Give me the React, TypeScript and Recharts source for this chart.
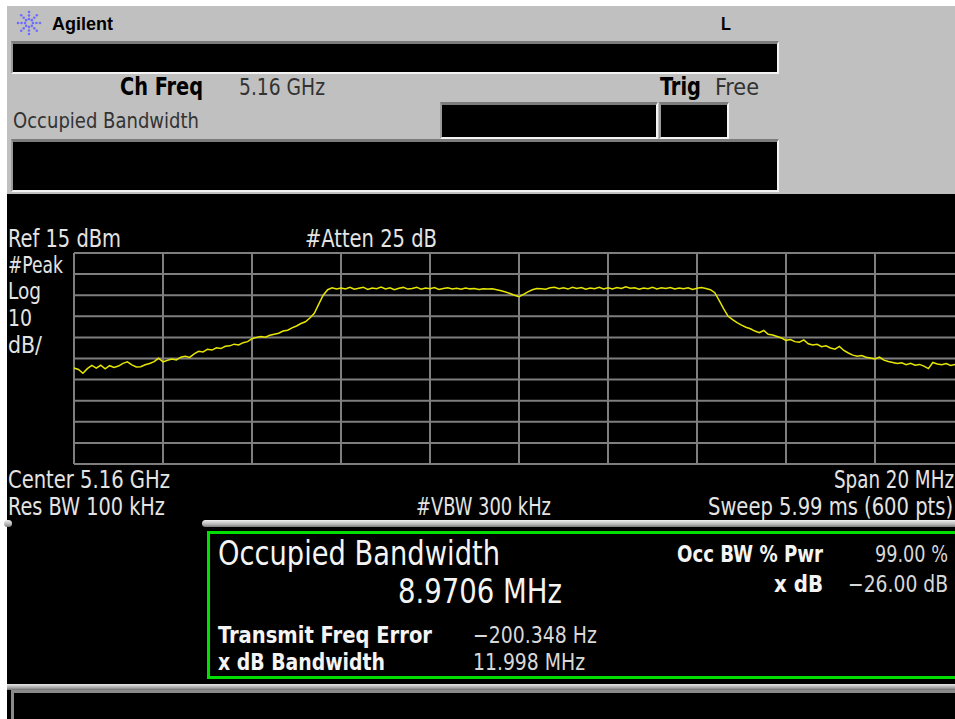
import React from "react";
import { LineChart, Line, XAxis, YAxis, CartesianGrid } from "recharts";

// sweep: center 5.16 GHz, span 20 MHz, read every 0.1 MHz off the screen
const freqMHz = [
  5150.0, 5150.1, 5150.2, 5150.3, 5150.4, 5150.5, 5150.6, 5150.7, 5150.8, 5150.9,
  5151.0, 5151.1, 5151.2, 5151.3, 5151.4, 5151.5, 5151.6, 5151.7, 5151.8, 5151.9,
  5152.0, 5152.1, 5152.2, 5152.3, 5152.4, 5152.5, 5152.6, 5152.7, 5152.8, 5152.9,
  5153.0, 5153.1, 5153.2, 5153.3, 5153.4, 5153.5, 5153.6, 5153.7, 5153.8, 5153.9,
  5154.0, 5154.1, 5154.2, 5154.3, 5154.4, 5154.5, 5154.6, 5154.7, 5154.8, 5154.9,
  5155.0, 5155.1, 5155.2, 5155.3, 5155.4, 5155.5, 5155.6, 5155.7, 5155.8, 5155.9,
  5156.0, 5156.1, 5156.2, 5156.3, 5156.4, 5156.5, 5156.6, 5156.7, 5156.8, 5156.9,
  5157.0, 5157.1, 5157.2, 5157.3, 5157.4, 5157.5, 5157.6, 5157.7, 5157.8, 5157.9,
  5158.0, 5158.1, 5158.2, 5158.3, 5158.4, 5158.5, 5158.6, 5158.7, 5158.8, 5158.9,
  5159.0, 5159.1, 5159.2, 5159.3, 5159.4, 5159.5, 5159.6, 5159.7, 5159.8, 5159.9,
  5160.0, 5160.1, 5160.2, 5160.3, 5160.4, 5160.5, 5160.6, 5160.7, 5160.8, 5160.9,
  5161.0, 5161.1, 5161.2, 5161.3, 5161.4, 5161.5, 5161.6, 5161.7, 5161.8, 5161.9,
  5162.0, 5162.1, 5162.2, 5162.3, 5162.4, 5162.5, 5162.6, 5162.7, 5162.8, 5162.9,
  5163.0, 5163.1, 5163.2, 5163.3, 5163.4, 5163.5, 5163.6, 5163.7, 5163.8, 5163.9,
  5164.0, 5164.1, 5164.2, 5164.3, 5164.4, 5164.5, 5164.6, 5164.7, 5164.8, 5164.9,
  5165.0, 5165.1, 5165.2, 5165.3, 5165.4, 5165.5, 5165.6, 5165.7, 5165.8, 5165.9,
  5166.0, 5166.1, 5166.2, 5166.3, 5166.4, 5166.5, 5166.6, 5166.7, 5166.8, 5166.9,
  5167.0, 5167.1, 5167.2, 5167.3, 5167.4, 5167.5, 5167.6, 5167.7, 5167.8, 5167.9,
  5168.0, 5168.1, 5168.2, 5168.3, 5168.4, 5168.5, 5168.6, 5168.7, 5168.8, 5168.9,
  5169.0, 5169.1, 5169.2, 5169.3, 5169.4, 5169.5, 5169.6, 5169.7, 5169.8, 5169.9,
  5170.0,
];

// trace level in dBm (Ref 15 dBm, 10 dB/div)
const levelDbm = [
  -39.5, -40.2, -42.0, -39.8, -38.3, -39.6, -38.2, -39.9, -38.4, -39.2,
  -38.6, -37.3, -36.6, -38.0, -39.0, -38.9, -38.0, -37.4, -36.5, -34.9,
  -36.6, -35.8, -35.2, -35.7, -34.4, -33.9, -34.5, -32.8, -31.6, -31.9,
  -30.6, -31.0, -29.9, -30.3, -29.2, -29.0, -28.2, -28.6, -27.5, -27.0,
  -25.6, -25.0, -24.6, -24.9, -24.0, -23.5, -23.0, -22.0, -21.6, -20.5,
  -19.6, -18.4, -17.6, -15.8, -13.6, -9.2, -5.0, -2.4, -1.5, -2.1,
  -1.6, -2.0, -1.3, -2.2, -1.7, -1.2, -2.3, -1.6, -1.9, -1.1,
  -2.0, -1.5, -2.4, -1.7, -1.3, -2.1, -1.8, -1.2, -2.2, -1.6,
  -1.9, -1.4, -2.3, -1.8, -1.5, -2.0, -1.7, -2.2, -1.6, -2.0,
  -1.8, -2.3, -1.9, -2.1, -1.9, -2.4, -2.9, -3.5, -4.2, -5.0,
  -5.7, -4.6, -3.4, -2.4, -1.8, -1.9, -2.2, -1.5, -1.2, -1.9,
  -1.5, -2.1, -1.3, -1.8, -1.4, -2.2, -1.6, -1.9, -1.3, -2.0,
  -1.5, -2.1, -1.4, -1.8, -1.0, -1.7, -1.5, -2.2, -1.6, -1.9,
  -1.3, -2.0, -1.5, -1.8, -1.4, -2.1, -1.6, -1.9, -1.5, -2.3,
  -1.7, -1.4, -1.8, -2.4, -3.8, -7.6, -11.5, -15.0, -16.6, -18.0,
  -19.2, -20.2, -20.9, -22.0, -22.8, -21.7, -23.5, -23.9, -24.6, -25.3,
  -26.4, -26.0, -27.0, -27.3, -26.2, -28.0, -28.6, -28.3, -29.4, -29.0,
  -30.0, -30.6, -29.3, -31.2, -32.4, -33.4, -33.9, -33.6, -34.4, -34.8,
  -35.2, -34.3, -35.8, -36.4, -36.9, -37.4, -37.0, -37.9, -37.3, -38.2,
  -37.8, -38.6, -39.8, -36.9, -37.6, -38.0, -37.4, -38.3, -37.8, -38.5,
  -38.2,
];

const freqTicks = [5150, 5152, 5154, 5156, 5158, 5160, 5162, 5164, 5166, 5168, 5170];
const levelTicks = [15, 5, -5, -15, -25, -35, -45, -55, -65, -75, -85];

const traceData = freqMHz.map((f, i) => ({ freq: f, level: levelDbm[i] }));

const NARROW = '"Liberation Sans Narrow", "DejaVu Sans Condensed", "Liberation Sans", sans-serif';
const ARIAL = '"Liberation Sans", Arial, sans-serif';

const Txt = ({ x, y, w, size = 23, bold = false, fill = "#e4e4e4", font = NARROW, children }: any) => (
  <text
    x={x}
    y={y}
    fontFamily={font}
    fontSize={size}
    fontWeight={bold ? 700 : 400}
    fill={fill}
    textLength={w}
    lengthAdjust="spacingAndGlyphs"
  >
    {children}
  </text>
);

// black box with the sunken bevel used on the instrument header
const Well = ({ left, top, width, height }: any) => (
  <div
    style={{
      position: "absolute",
      left,
      top,
      width,
      height,
      boxSizing: "border-box",
      background: "#000",
      borderTop: "3px solid #7c7c7c",
      borderLeft: "2px solid #9a9a9a",
      borderBottom: "2px solid #f4f4f4",
      borderRight: "2px solid #f4f4f4",
    }}
  />
);

const Logo = () => {
  const dots: React.ReactElement[] = [];
  for (let k = 0; k < 8; k++) {
    const a = (k * Math.PI) / 4;
    [4, 7.5, 11].forEach((r, j) => {
      dots.push(
        <circle key={`${k}-${j}`} cx={29 + r * Math.cos(a)} cy={23 + r * Math.sin(a)} r={1.3} fill="#6c6cff" />
      );
    });
  }
  return <g>{dots}</g>;
};

const App = () => {
  return (
    <div
      style={{
        position: "absolute",
        left: 0,
        top: 0,
        width: 955,
        height: 719,
        overflow: "hidden",
        background: "#fff",
      }}
    >
      {/* header panel */}
      <div style={{ position: "absolute", left: 7, top: 6, width: 948, height: 188, background: "#c0c0c0" }} />
      <Well left={11} top={41} width={768} height={33} />
      <Well left={440} top={102} width={218} height={37} />
      <Well left={659} top={102} width={70} height={37} />
      <Well left={11} top={139} width={768} height={53} />

      {/* screen */}
      <div style={{ position: "absolute", left: 7, top: 194, width: 948, height: 525, background: "#000" }} />

      {/* separators */}
      <div
        style={{
          position: "absolute",
          left: 202,
          top: 520,
          width: 760,
          height: 7,
          borderRadius: 4,
          background: "linear-gradient(#f0f0f0, #b8b8b8 60%, #7a7a7a)",
        }}
      />
      <div
        style={{
          position: "absolute",
          left: 4,
          top: 520,
          width: 8,
          height: 7,
          borderRadius: 4,
          background: "linear-gradient(#f0f0f0, #b8b8b8 60%, #7a7a7a)",
        }}
      />
      <div
        style={{
          position: "absolute",
          left: 7,
          top: 684,
          width: 948,
          height: 6,
          background: "linear-gradient(#e8e8e8, #a8a8a8 60%, #707070)",
        }}
      />
      <div
        style={{
          position: "absolute",
          left: 11,
          top: 690,
          width: 960,
          height: 40,
          boxSizing: "border-box",
          borderTop: "3px solid #8a8a8a",
          borderLeft: "3px solid #8a8a8a",
        }}
      />

      {/* result box */}
      <div
        style={{
          position: "absolute",
          left: 207,
          top: 531,
          width: 770,
          height: 148,
          boxSizing: "border-box",
          border: "3px solid #00e000",
        }}
      />

      {/* spectrum trace */}
      <div style={{ position: "absolute", left: 72, top: 251 }}>
        <LineChart width={894} height={215} data={traceData} margin={{ top: 2, right: 2, bottom: 2, left: 2 }}>
          <CartesianGrid stroke="#7e7e7e" strokeWidth={2} />
          <XAxis dataKey="freq" type="number" domain={[5150, 5170]} ticks={freqTicks} interval={0} hide />
          <YAxis type="number" domain={[-85, 15]} ticks={levelTicks} interval={0} hide />
          <Line
            type="linear"
            dataKey="level"
            stroke="#e6e600"
            strokeWidth={1.5}
            dot={false}
            isAnimationActive={false}
          />
        </LineChart>
      </div>

      {/* text layer */}
      <svg
        width={955}
        height={719}
        style={{ position: "absolute", left: 0, top: 0, pointerEvents: "none" }}
      >
        <Logo />
        <Txt x={52} y={30} w={61} size={19} bold fill="#000" font={ARIAL}>Agilent</Txt>
        <Txt x={721} y={30} w={10} size={19} bold fill="#000" font={ARIAL}>L</Txt>
        <Txt x={120} y={95} w={83} size={24} bold fill="#000">Ch Freq</Txt>
        <Txt x={239} y={95} w={86} size={23} fill="#333">5.16 GHz</Txt>
        <Txt x={660} y={95} w={41} size={24} bold fill="#000">Trig</Txt>
        <Txt x={715} y={95} w={44} size={23} fill="#333">Free</Txt>
        <Txt x={13} y={128} w={186} size={22} fill="#333">Occupied Bandwidth</Txt>

        <Txt x={8} y={247} w={113} size={24}>Ref 15 dBm</Txt>
        <Txt x={305} y={247} w={132} size={24}>#Atten 25 dB</Txt>
        <Txt x={8} y={273} w={55} size={23}>#Peak</Txt>
        <Txt x={8} y={299} w={33} size={23}>Log</Txt>
        <Txt x={8} y={326} w={24} size={23}>10</Txt>
        <Txt x={8} y={353} w={34} size={23}>dB/</Txt>
        <Txt x={8} y={488} w={162} size={24}>Center 5.16 GHz</Txt>
        <Txt x={834} y={488} w={120} size={24}>Span 20 MHz</Txt>
        <Txt x={8} y={515} w={157} size={24}>Res BW 100 kHz</Txt>
        <Txt x={416} y={515} w={135} size={24}>#VBW 300 kHz</Txt>
        <Txt x={708} y={515} w={245} size={24}>Sweep 5.99 ms (600 pts)</Txt>

        <Txt x={218} y={565} w={282} size={34} fill="#f4f4f4">Occupied Bandwidth</Txt>
        <Txt x={398} y={603} w={164} size={34} fill="#f4f4f4">8.9706 MHz</Txt>
        <Txt x={677} y={562} w={146} size={23} bold fill="#f4f4f4">Occ BW % Pwr</Txt>
        <Txt x={875} y={562} w={73} size={23} fill="#d8d8d8">99.00 %</Txt>
        <Txt x={774} y={592} w={49} size={23} bold fill="#f4f4f4">x dB</Txt>
        <Txt x={848} y={592} w={100} size={23} fill="#d8d8d8">−26.00 dB</Txt>
        <Txt x={218} y={643} w={214} size={23} bold fill="#f4f4f4">Transmit Freq Error</Txt>
        <Txt x={473} y={643} w={124} size={23} fill="#d8d8d8">−200.348 Hz</Txt>
        <Txt x={218} y={670} w={167} size={23} bold fill="#f4f4f4">x dB Bandwidth</Txt>
        <Txt x={473} y={670} w={112} size={23} fill="#d8d8d8">11.998 MHz</Txt>
      </svg>
    </div>
  );
};

export default App;
